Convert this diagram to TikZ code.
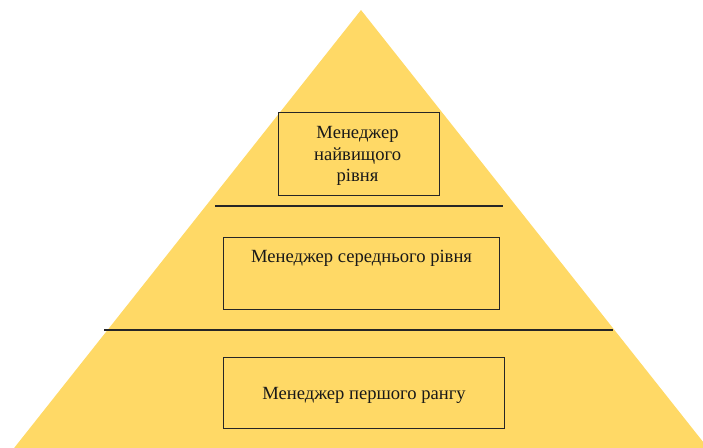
\documentclass[tikz,border=0pt]{standalone}
\usepackage{fontspec}
\setmainfont{Liberation Serif}
\definecolor{pyr}{RGB}{255,217,102}
\begin{document}
\begin{tikzpicture}[x=1pt,y=-1pt,
  box/.style={draw=black!85,line width=1.1pt,fill=pyr,inner sep=0pt,anchor=north west},
  lbl/.style={font=\fontsize{18.6}{21.5}\selectfont,align=center,inner sep=0pt,text=black!90},
  sep/.style={draw=black!85,line width=1.4pt}]
\useasboundingbox (0,0) rectangle (703,447);
\clip (0,0) rectangle (703,447);
\fill[pyr] (361,10) -- (361+0.792*500,510) -- (361-0.792*500,510) -- cycle;
\coordinate (l1a) at (215,206);
\coordinate (l1b) at (503,206);
\coordinate (l2a) at (104,330);
\coordinate (l2b) at (613,330);
\draw[sep] (l1a) -- (l1b);
\draw[sep] (l2a) -- (l2b);
\node[box,minimum width=161pt,minimum height=83pt] (b1) at (278,112) {};
\node[box,minimum width=276pt,minimum height=72pt] (b2) at (223,237) {};
\node[box,minimum width=281pt,minimum height=71pt] (b3) at (223,357) {};
\node[lbl] (t1) at ([xshift=-1.5pt,yshift=-2pt]b1.center) {Менеджер\\найвищого\\рівня};
\node[lbl] (t2) at ([yshift=-21pt]b2.north) {Менеджер середнього рівня};
\node[lbl] (t3) at ([yshift=-2pt]b3.center) {Менеджер першого рангу};
\end{tikzpicture}
\end{document}
